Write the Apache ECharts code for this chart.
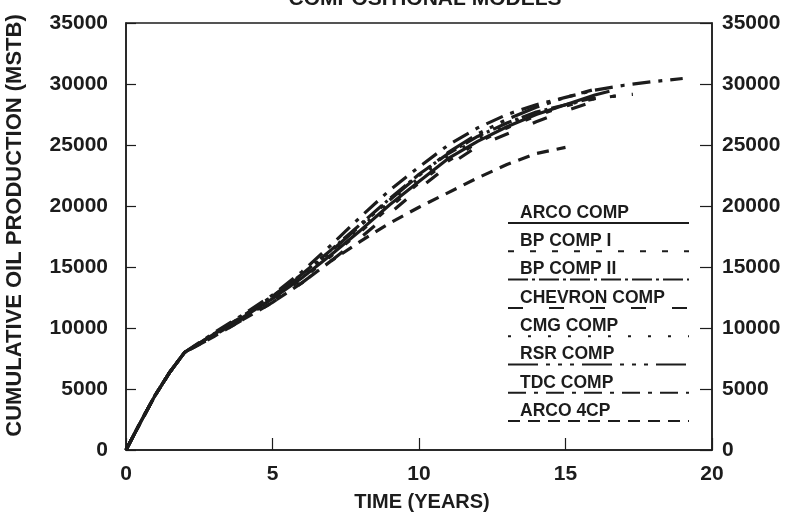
<!DOCTYPE html>
<html>
<head>
<meta charset="utf-8">
<script src="https://cdn.jsdelivr.net/npm/echarts@6/dist/echarts.min.js"></script>
<style>html,body{margin:0;padding:0;background:#fff;}#c{width:794px;height:523px;}</style>
</head>
<body>
<div id="c"></div>
<script>
// Time (years) and cumulative oil production (MSTB) pairs per model
const arcoComp   = [[0,0],[0.5,2300],[1,4500],[1.5,6400],[2,8000],[3,9500],[4,10900],[5,12400],[6,14100],[7,16000],[8,18000],[9,20100],[10,22000],[11,23900],[12,25300],[13,26500],[14,27500],[15,28300],[16,29100],[16.5,29400]];
const bpComp1    = [[0,0],[0.5,2300],[1,4500],[1.5,6400],[2,8000],[3,9400],[4,10800],[5,12300],[6,14000],[7,15900],[8,17900],[9,19900],[10,21900],[11,23700],[12,25200],[13,26400],[14,27400],[15,28200],[16,28800],[17,29100],[17.3,29150]];
const bpComp2    = [[0,0],[0.5,2300],[1,4500],[1.5,6400],[2,8000],[3,9500],[4,11000],[5,12600],[6,14400],[7,16400],[8,18500],[9,20600],[10,22600],[11,24300],[12,25700],[13,26800],[14,27700],[15,28300],[16,28900]];
const chevronComp= [[0,0],[0.5,2300],[1,4500],[1.5,6400],[2,8000],[3,9300],[4,10700],[5,12100],[6,13700],[7,15500],[8,17400],[9,19400],[10,21400],[11,23300],[12,24900],[13,25900],[14,26900],[15,27800],[16,28600]];
const cmgComp    = [[0,0],[0.5,2300],[1,4500],[1.5,6400],[2,8000],[3,9400],[4,10900],[5,12500],[6,14300],[7,16200],[8,18200],[9,20300],[10,22300],[11,24100],[12,25500],[13,26700],[14,27600],[15,28300],[16,28800],[17,29100]];
const rsrComp    = [[0,0],[0.5,2300],[1,4500],[1.5,6400],[2,8000],[3,9500],[4,11000],[5,12600],[6,14300],[7,16300],[8,18400],[9,20500],[10,22500],[11,24400],[12,25900],[13,27100],[14,28100],[15,28900],[15.9,29500]];
const tdcComp    = [[0,0],[0.5,2300],[1,4500],[1.5,6400],[2,8000],[3,9600],[4,11100],[5,12700],[6,14600],[7,16800],[8,19100],[9,21300],[10,23200],[11,25000],[12,26400],[13,27500],[14,28300],[15,28900],[16,29500],[17,29900],[18,30200],[19,30450]];
const arco4cp    = [[0,0],[0.5,2300],[1,4500],[1.5,6400],[2,8000],[3,9300],[4,10700],[5,12100],[6,13700],[7,15500],[8,17100],[9,18600],[10,19900],[11,21100],[12,22300],[13,23400],[14,24300],[15,24800]];

const seriesNames = ['ARCO COMP','BP COMP I','BP COMP II','CHEVRON COMP','CMG COMP','RSR COMP','TDC COMP','ARCO 4CP'];
const seriesData = [arcoComp, bpComp1, bpComp2, chevronComp, cmgComp, rsrComp, tdcComp, arco4cp];
const dashTypes = ['solid',[6,16],[20,4,3,4],[15,26],[3,17],[30,8,4,8,4,8,4,8],[18,8,4,8],[12,8]];

const xTicks = {min:0, max:20, interval:5};
const yTicks = {min:0, max:35000, interval:5000};

const ink = '#1c1c1c';
const font = 'Liberation Sans, Arial, sans-serif';

const chart = echarts.init(document.getElementById('c'), null, {renderer:'canvas'});

const series = seriesNames.map((n,i)=>({
  name:n, type:'line', data:seriesData[i], symbol:'none', showSymbol:false,
  lineStyle:{color:ink, width:3.2, type:dashTypes[i]}, itemStyle:{color:ink},
  z: 3, silent:true, animation:false
}));

const plain = v => String(v);

const yAxisBase = (pos, margin, tickLen) => ({
  type:'value', position:pos, min:yTicks.min, max:yTicks.max, interval:yTicks.interval,
  axisLine:{show:true, lineStyle:{color:ink, width:1.5}},
  axisTick:{show:true, inside:true, length:tickLen, lineStyle:{color:ink, width:1.2}},
  axisLabel:{color:ink, fontFamily:font, fontWeight:'bold', fontSize:21, margin:margin, formatter:plain},
  splitLine:{show:false}
});

const option = {
  animation:false,
  backgroundColor:'#fff',
  title:{text:'COMPOSITIONAL MODELS', left:420, textAlign:'center', top:-16,
    textStyle:{color:ink, fontFamily:font, fontWeight:'bold', fontSize:21}},
  grid:{left:126, right:82, top:23, bottom:73, show:true, borderColor:ink, borderWidth:1.5,
    backgroundColor:'transparent', containLabel:false, outerBoundsMode:'none'},
  legend:[
    {data:seriesNames, orient:'vertical', left:502, top:214, itemWidth:181, itemHeight:10, itemGap:20.3,
     formatter:()=>'', textStyle:{fontSize:1, lineHeight:1}, itemStyle:{opacity:0},
     lineStyle:{width:2}, selectedMode:false},
    {data:seriesNames, orient:'vertical', left:510, top:199, icon:'rect', itemWidth:0, itemHeight:0, itemGap:10.3,
     itemStyle:{opacity:0}, lineStyle:{opacity:0},
     textStyle:{color:ink, fontFamily:font, fontWeight:'bold', fontSize:17.5, lineHeight:18}, selectedMode:false}
  ],
  xAxis:{type:'value', min:xTicks.min, max:xTicks.max, interval:xTicks.interval,
    name:'TIME (YEARS)', nameLocation:'middle', nameGap:42,
    nameTextStyle:{color:ink, fontFamily:font, fontWeight:'bold', fontSize:20, padding:[0,0,0,6]},
    axisLine:{show:true, lineStyle:{color:ink, width:1.5}},
    axisTick:{show:true, inside:true, length:12, lineStyle:{color:ink, width:1.2}},
    axisLabel:{color:ink, fontFamily:font, fontWeight:'bold', fontSize:21, margin:14, formatter:plain},
    splitLine:{show:false}},
  yAxis:[
    Object.assign(yAxisBase('left', 18, 10), {name:'CUMULATIVE OIL PRODUCTION (MSTB)', nameLocation:'middle', nameGap:100,
      nameTextStyle:{color:ink, fontFamily:font, fontWeight:'bold', fontSize:22, padding:[0,0,0,22]}}),
    yAxisBase('right', 10, 12)
  ],
  series: series
};
chart.setOption(option);
</script>
</body>
</html>
